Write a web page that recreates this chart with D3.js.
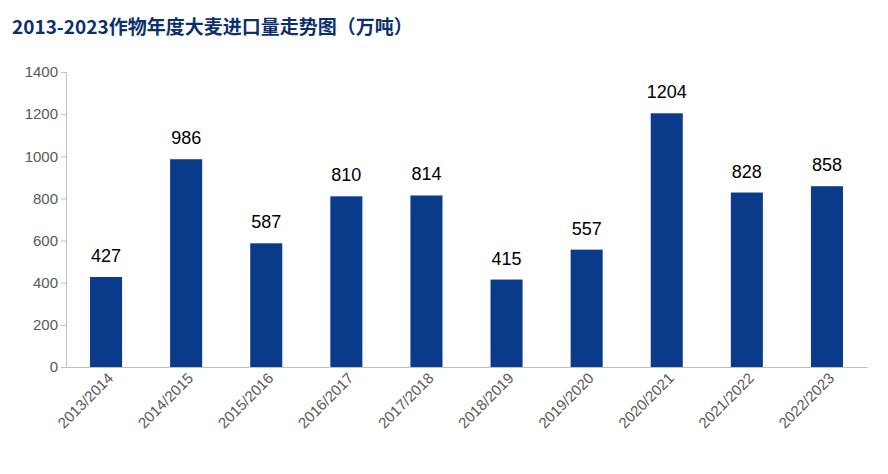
<!DOCTYPE html>
<html><head><meta charset="utf-8">
<script src="https://cdn.jsdelivr.net/npm/d3@7"></script>
<style>body{margin:0;background:#fff}</style></head>
<body><svg id="c" width="888" height="474"></svg>
<script>
const categories=["2013/2014","2014/2015","2015/2016","2016/2017","2017/2018","2018/2019","2019/2020","2020/2021","2021/2022","2022/2023"];
const values=[427,986,587,810,814,415,557,1204,828,858];
const yTicks=[0,200,400,600,800,1000,1200,1400];
const svg=d3.select("#c");
const m={l:66,r:867,t:72,b:367};
const x=d3.scaleBand().domain(categories).range([m.l,m.r]).paddingInner(0.6).paddingOuter(0.3);
const y=d3.scaleLinear().domain([0,1400]).range([m.b,m.t]);
svg.append("text").attr("x",12).attr("y",34).text("2013-2023作物年度大麦进口量走势图（万吨）")
 .attr("font-family","Noto Sans CJK SC").attr("font-weight","bold").attr("font-size",19).attr("fill","#0d2f6e");
const ya=svg.append("g").attr("transform",`translate(${m.l},0)`).call(d3.axisLeft(y).tickValues(yTicks).tickFormat(d3.format("d")).tickSize(5));
const xa=svg.append("g").attr("transform",`translate(0,${m.b})`).call(d3.axisBottom(x).tickSize(0));
[ya,xa].forEach(g=>{g.selectAll("path,line").attr("stroke","#bfbfbf");g.selectAll("text").attr("fill","#595959").attr("font-family","Liberation Sans").attr("font-size",15);});
xa.selectAll("text").attr("text-anchor","end").attr("dx","0").attr("dy","0")
 .attr("transform","translate(6,10) rotate(-45)");
svg.selectAll("rect.b").data(values).join("rect").attr("x",(d,i)=>x(categories[i])).attr("width",x.bandwidth())
 .attr("y",d=>y(d)).attr("height",d=>y(0)-y(d)).attr("fill","#0a3a8a");
svg.selectAll("text.v").data(values).join("text").attr("x",(d,i)=>x(categories[i])+x.bandwidth()/2)
 .attr("y",d=>y(d)-15).attr("text-anchor","middle").text(d=>d)
 .attr("font-family","Liberation Sans").attr("font-size",18).attr("fill","#000");
</script></body></html>
